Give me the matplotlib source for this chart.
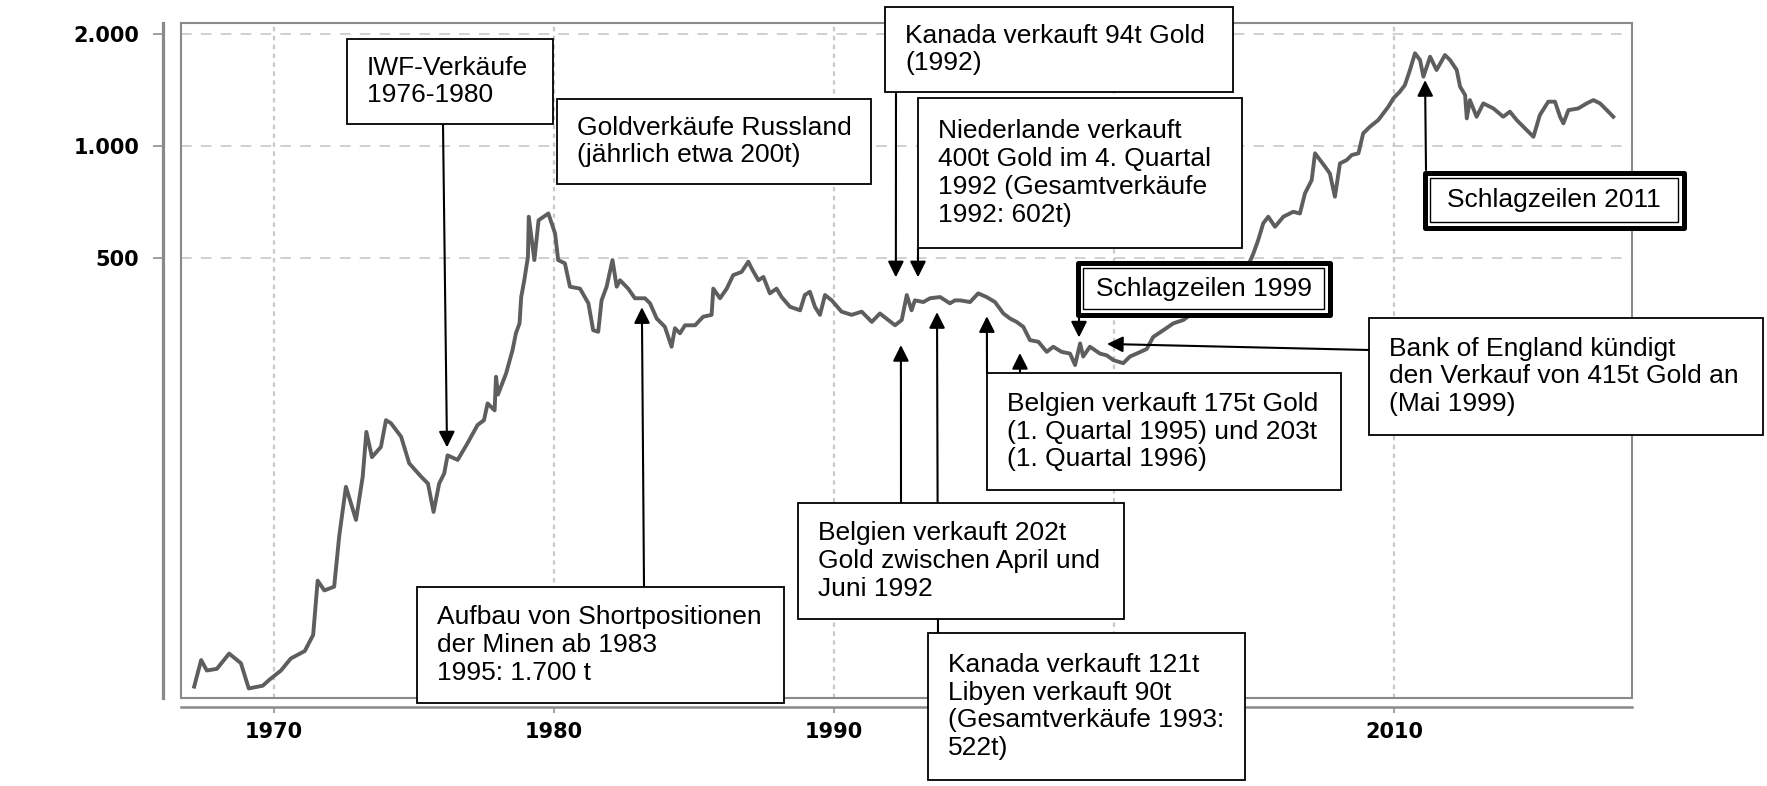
"""Goldpreis 1967-2017 (log) mit Verkaufs-Annotationen"""
import matplotlib.pyplot as plt
from matplotlib.patches import Rectangle
from matplotlib.ticker import FixedLocator, FixedFormatter, NullLocator

# ── data ──────────────────────────────────────────────────────────────────────
year = [1967.15, 1967.40, 1967.60, 1967.96, 1968.40, 1968.82, 1969.10, 1969.60,
        1969.83, 1970.25, 1970.60, 1971.10, 1971.40, 1971.56, 1971.80, 1972.15,
        1972.33, 1972.57, 1972.93, 1973.17, 1973.30, 1973.50, 1973.82, 1974.00,
        1974.18, 1974.54, 1974.83, 1975.25, 1975.50, 1975.70, 1975.90, 1976.08,
        1976.20, 1976.56, 1976.90, 1977.27, 1977.50, 1977.63, 1977.88, 1977.93,
        1978.00, 1978.29, 1978.52, 1978.64, 1978.77, 1978.83, 1978.94, 1979.07,
        1979.10, 1979.30, 1979.45, 1979.80, 1980.04, 1980.15, 1980.39, 1980.57,
        1980.93, 1981.23, 1981.40, 1981.58, 1981.70, 1981.88, 1982.09, 1982.24,
        1982.36, 1982.65, 1982.89, 1983.25, 1983.43, 1983.67, 1983.96, 1984.20,
        1984.32, 1984.50, 1984.68, 1985.04, 1985.33, 1985.63, 1985.69, 1985.93,
        1986.17, 1986.40, 1986.70, 1986.94, 1987.06, 1987.30, 1987.48, 1987.71,
        1987.95, 1988.13, 1988.43, 1988.79, 1988.96, 1989.14, 1989.32, 1989.50,
        1989.68, 1989.92, 1990.27, 1990.63, 1990.99, 1991.35, 1991.64, 1992.18,
        1992.42, 1992.60, 1992.77, 1992.89, 1993.19, 1993.43, 1993.79, 1994.14,
        1994.32, 1994.50, 1994.86, 1995.15, 1995.45, 1995.75, 1996.05, 1996.29,
        1996.52, 1996.76, 1997.00, 1997.30, 1997.60, 1997.83, 1998.13, 1998.43,
        1998.61, 1998.79, 1998.90, 1999.14, 1999.50, 1999.74, 1999.98, 2000.33,
        2000.57, 2000.81, 2001.17, 2001.40, 2001.76, 2002.12, 2002.48, 2003.00,
        2003.60, 2004.20, 2004.70, 2004.98, 2005.15, 2005.33, 2005.51, 2005.75,
        2006.05, 2006.40, 2006.64, 2006.82, 2007.06, 2007.18, 2007.36, 2007.54,
        2007.71, 2007.89, 2008.07, 2008.31, 2008.49, 2008.73, 2008.90, 2009.14,
        2009.44, 2009.62, 2009.80, 2009.98, 2010.21, 2010.39, 2010.57, 2010.75,
        2010.93, 2011.05, 2011.29, 2011.52, 2011.82, 2012.00, 2012.24, 2012.36,
        2012.54, 2012.60, 2012.71, 2012.95, 2013.19, 2013.55, 2013.90, 2014.14,
        2014.38, 2014.62, 2014.98, 2015.21, 2015.51, 2015.75, 2015.93, 2016.05,
        2016.23, 2016.58, 2016.88, 2017.12, 2017.36, 2017.60, 2017.83]
price = [35.3, 41.6, 39.0, 39.4, 43.3, 40.8, 34.9, 35.5,
         36.8, 39.0, 42.0, 44.0, 48.6, 68.0, 64.0, 65.5,
         89.5, 121.5, 99.0, 129.5, 170.6, 146.0, 155.5, 183.5,
         180.0, 165.7, 140.5, 129.5, 124.0, 104.0, 124.0, 132.0,
         147.6, 143.5, 158.5, 178.0, 183.5, 203.5, 195.0, 240.0,
         215.0, 245.0, 283.0, 314.0, 334.0, 393.0, 436.0, 504.0,
         646.0, 494.0, 632.0, 659.0, 582.0, 494.0, 484.0, 419.0,
         414.0, 378.0, 320.0, 317.0, 385.0, 419.0, 494.0, 419.0,
         436.0, 414.0, 390.0, 390.0, 378.0, 344.0, 327.0, 289.0,
         324.0, 314.0, 330.0, 330.0, 348.0, 352.0, 414.0, 390.0,
         414.0, 450.0, 459.0, 489.0, 469.0, 436.0, 445.0, 402.0,
         414.0, 393.0, 370.0, 362.0, 398.0, 406.0, 370.0, 352.0,
         398.0, 385.0, 359.0, 352.0, 359.0, 337.0, 355.0, 330.0,
         341.0, 398.0, 362.0, 385.0, 381.0, 390.0, 393.0, 378.0,
         385.0, 385.0, 381.0, 402.0, 393.0, 381.0, 355.0, 344.0,
         337.0, 327.0, 301.0, 298.0, 280.0, 289.0, 280.0, 277.0,
         258.0, 295.0, 272.0, 289.0, 277.0, 274.0, 266.0, 261.0,
         272.0, 277.0, 285.0, 307.0, 320.0, 334.0, 341.0, 365.0,
         390.0, 420.0, 460.0, 515.0, 559.0, 620.0, 646.0, 607.0,
         646.0, 666.0, 659.0, 746.0, 810.0, 956.0, 917.0, 880.0,
         844.0, 731.0, 898.0, 917.0, 946.0, 956.0, 1082.0, 1127.0,
         1175.0, 1224.0, 1276.0, 1344.0, 1400.0, 1459.0, 1601.0, 1775.0,
         1703.0, 1536.0, 1738.0, 1601.0, 1756.0, 1703.0, 1601.0, 1444.0,
         1371.0, 1187.0, 1329.0, 1199.0, 1302.0, 1262.0, 1199.0, 1237.0,
         1175.0, 1127.0, 1059.0, 1212.0, 1316.0, 1316.0, 1199.0, 1151.0,
         1249.0, 1262.0, 1302.0, 1329.0, 1302.0, 1249.0, 1199.0]

y_ticks = [500, 1000, 2000]
y_tick_labels = ["500", "1.000", "2.000"]
x_ticks = [1970, 1980, 1990, 2000, 2010]
x_tick_labels = ["1970", "1980", "1990", "2000", "2010"]

# ── figure ───────────────────────────────────────────────────────────────────
W, H = 1767, 786
fig = plt.figure(figsize=(W / 100, H / 100), dpi=100)
ax = fig.add_axes([181 / W, (H - 698) / H, (1632 - 181) / W, (698 - 23) / H])

ax.plot(year, price, color="#5e5e5e", lw=2.8, zorder=3)
ax.set_yscale("log")
ax.set_xlim(1966.68, 2018.5)
ax.set_ylim(32.9, 2141)

ax.yaxis.set_major_locator(FixedLocator(y_ticks))
ax.yaxis.set_major_formatter(FixedFormatter(y_tick_labels))
ax.yaxis.set_minor_locator(NullLocator())
ax.set_xticks(x_ticks)
ax.set_xticklabels(x_tick_labels)

ax.grid(axis="y", color="#c4c4c4", ls=(0, (7, 6)), lw=1.1)
ax.grid(axis="x", color="#c8c8c8", ls=(0, (2, 2)), lw=1.6)

frame = "#8a8a8a"
for s in ["top", "right"]:
    ax.spines[s].set_color(frame)
    ax.spines[s].set_linewidth(1.5)
ax.spines["left"].set_position(("outward", 13))
ax.spines["bottom"].set_position(("outward", 6.5))
ax.spines["left"].set_color(frame)
ax.spines["left"].set_linewidth(2.3)
ax.spines["bottom"].set_color(frame)
ax.spines["bottom"].set_linewidth(1.8)
# inner frame edges
ax.plot([0, 0], [0, 1], transform=ax.transAxes, color=frame, lw=1.5, clip_on=False)
ax.plot([0, 1], [0, 0], transform=ax.transAxes, color=frame, lw=1.5, clip_on=False)

ax.tick_params(axis="y", length=7, width=1.4, color="#a0a0a0", pad=10, labelsize=15)
ax.tick_params(axis="x", length=4.5, width=1.4, color="#a0a0a0", pad=6, labelsize=15)
for lbl in ax.get_xticklabels() + ax.get_yticklabels():
    lbl.set_family("DejaVu Sans")
    lbl.set_fontweight("bold")
# the 2000 label sits under the "Kanada verkauft 121t" box in the original
ax.get_xticklabels()[x_ticks.index(2000)].set_visible(False)

# ── annotations ───────────────────────────────────────────────────────────────
FONT = "Liberation Sans"
arrow = dict(arrowstyle="-|>", color="black", lw=1.5, mutation_scale=24,
             shrinkA=0, shrinkB=0)


def point(tx, ty, yr, pr):
    ax.annotate("", xy=(yr, pr), xycoords="data", xytext=(tx, H - ty),
                textcoords="figure pixels", arrowprops=arrow,
                annotation_clip=False, zorder=4)


def box(x0, y0, x1, y1, text):
    fig.add_artist(Rectangle((x0 / W, 1 - y1 / H), (x1 - x0) / W, (y1 - y0) / H,
                             transform=fig.transFigure, fc="white", ec="black",
                             lw=1.3, zorder=5))
    fig.text((x0 + 20) / W, 1 - (y0 + y1) / 2 / H, text, ha="left", va="center",
             fontsize=19, family=FONT, linespacing=1.2, zorder=6)


def double_box(x0, y0, x1, y1, text):
    fig.add_artist(Rectangle(((x0 + 2.5) / W, 1 - (y1 - 2.5) / H),
                             (x1 - x0 - 5) / W, (y1 - y0 - 5) / H,
                             transform=fig.transFigure, fc="white", ec="black",
                             lw=3.6, joinstyle="round", zorder=5))
    fig.add_artist(Rectangle(((x0 + 8) / W, 1 - (y1 - 8) / H),
                             (x1 - x0 - 16) / W, (y1 - y0 - 16) / H,
                             transform=fig.transFigure, fc="none", ec="black",
                             lw=1.0, zorder=5))
    fig.text((x0 + x1) / 2 / W, 1 - (y0 + y1) / 2 / H, text, ha="center",
             va="center", fontsize=19, family=FONT, zorder=6)


point(443, 124, 1976.18, 155)      # IWF
point(644, 587, 1983.14, 369)      # Shortpositionen
point(896, 92, 1992.21, 444)       # Kanada 94t
point(918, 248, 1993.0, 444)       # Niederlande
point(901, 503, 1992.39, 292)      # Belgien 202t
point(938, 633, 1993.68, 358)      # Kanada 121t / Libyen
point(987, 373, 1995.46, 349)      # Belgien 175t
point(1020, 373, 1996.64, 278)     # Belgien 203t
point(1079, 317, 1998.75, 306)     # Schlagzeilen 1999
point(1369, 350, 1999.75, 294)     # Bank of England
point(1426, 170, 2011.11, 1504)    # Schlagzeilen 2011

box(347, 39, 553, 124, "IWF-Verkäufe\n1976-1980")
box(557, 99, 871, 184, "Goldverkäufe Russland\n(jährlich etwa 200t)")
box(885, 7, 1233, 92, "Kanada verkauft 94t Gold\n(1992)")
box(918, 98, 1242, 248, "Niederlande verkauft\n400t Gold im 4. Quartal\n"
    "1992 (Gesamtverkäufe\n1992: 602t)")
box(987, 373, 1341, 490, "Belgien verkauft 175t Gold\n(1. Quartal 1995) und 203t\n"
    "(1. Quartal 1996)")
box(1369, 318, 1763, 435, "Bank of England kündigt\nden Verkauf von 415t Gold an\n"
    "(Mai 1999)")
box(798, 503, 1124, 619, "Belgien verkauft 202t\nGold zwischen April und\nJuni 1992")
box(417, 587, 784, 703, "Aufbau von Shortpositionen\nder Minen ab 1983\n1995: 1.700 t")
box(928, 633, 1245, 780, "Kanada verkauft 121t\nLibyen verkauft 90t\n"
    "(Gesamtverkäufe 1993:\n522t)")
double_box(1075, 260, 1332, 317, "Schlagzeilen 1999")
double_box(1422, 170, 1686, 230, "Schlagzeilen 2011")

plt.savefig("out.png", dpi=100)
plt.close()
